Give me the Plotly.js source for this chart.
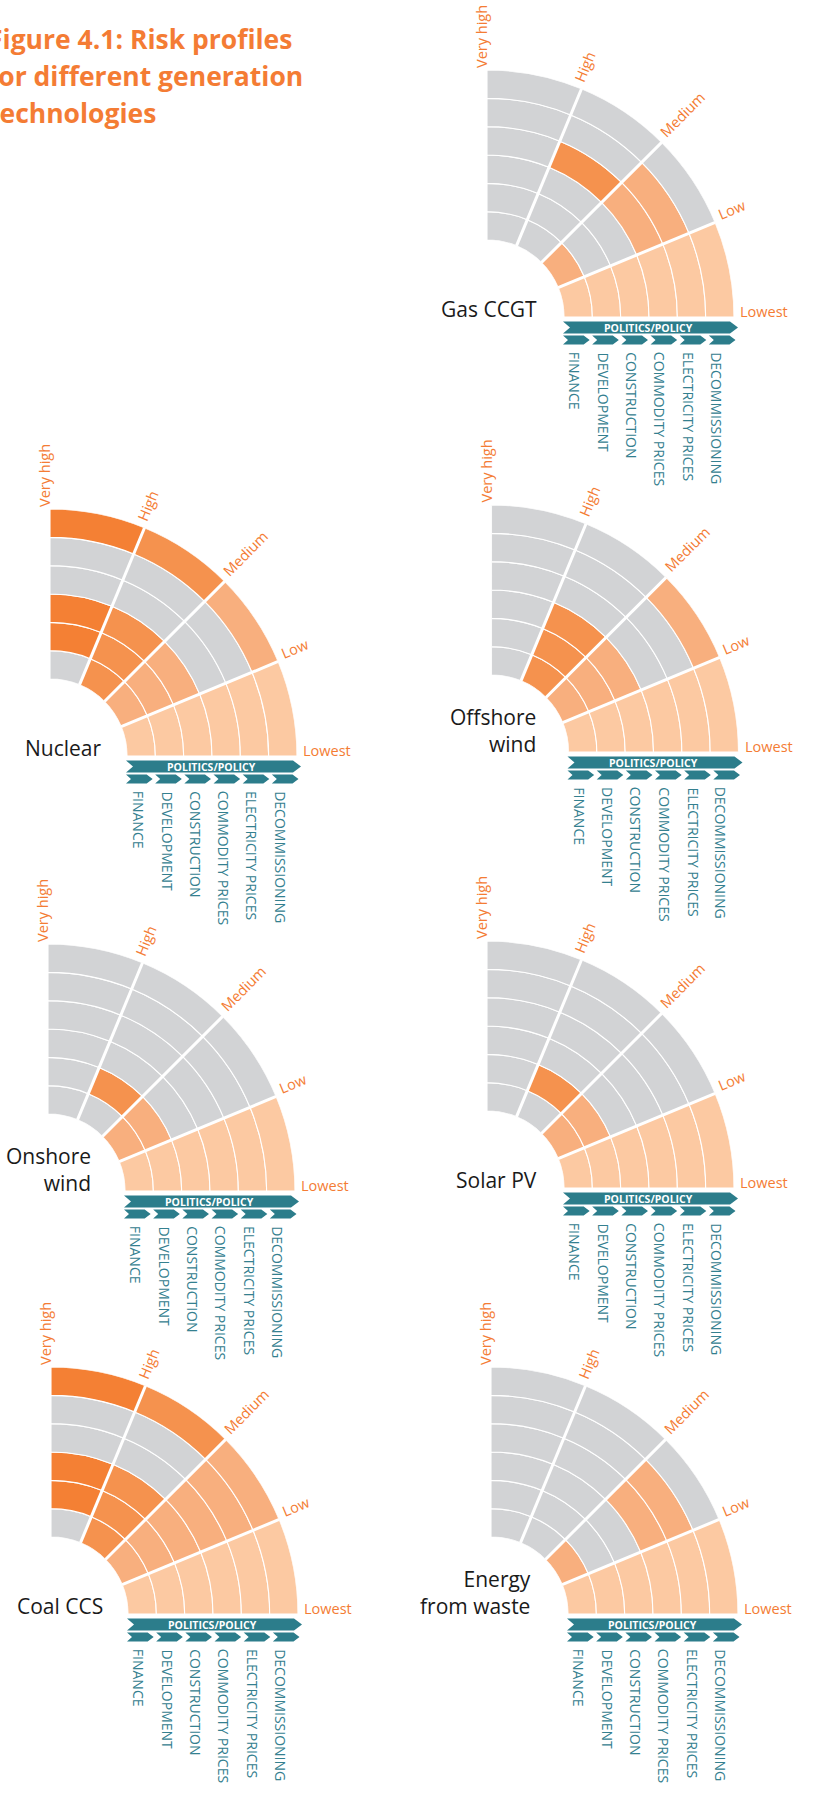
<!DOCTYPE html>
<html>
<head>
<meta charset="utf-8">
<script src="https://cdn.plot.ly/plotly-3.0.1.min.js"></script>
<style>
  html, body { margin: 0; padding: 0; background: #ffffff; }
  #chart { width: 831px; height: 1805px; }
</style>
</head>
<body>
<div id="chart"></div>
<script>
// ---- Data -------------------------------------------------------------
const technologies = ['Gas CCGT', 'Nuclear', 'Offshore<br>wind', 'Onshore<br>wind',
                      'Solar PV', 'Coal CCS', 'Energy<br>from waste'];
const riskCategories = ['FINANCE', 'DEVELOPMENT', 'CONSTRUCTION',
                        'COMMODITY PRICES', 'ELECTRICITY PRICES', 'DECOMMISSIONING'];
const riskLevels = ['Lowest', 'Low', 'Medium', 'High', 'Very high'];

// Risk level of each category (inner ring = FINANCE, outer ring = DECOMMISSIONING)
const gasCCGT         = ['Medium', 'Low',       'Low',       'High',   'Medium', 'Low'];
const nuclear         = ['High',   'Very high', 'Very high', 'Low',    'Low',    'Very high'];
const offshoreWind    = ['High',   'High',      'High',      'Low',    'Low',    'Medium'];
const onshoreWind     = ['Medium', 'High',      'Low',       'Low',    'Low',    'Low'];
const solarPV         = ['Medium', 'High',      'Low',       'Low',    'Low',    'Low'];
const coalCCS         = ['High',   'Very high', 'Very high', 'Medium', 'Medium', 'Very high'];
const energyFromWaste = ['Medium', 'Low',       'Low',       'Medium', 'Medium', 'Low'];
const profiles = [gasCCGT, nuclear, offshoreWind, onshoreWind, solarPV, coalCCS, energyFromWaste];

const titleLines = ['Figure 4.1: Risk profiles', 'for different generation', 'technologies'];
const bannerLabel = 'POLITICS/POLICY';

// ---- Layout & style ---------------------------------------------------
const W = 831, H = 1805;
const R_OUT = 247, R_IN = 77;
const RING_W = (R_OUT - R_IN) / riskCategories.length;
const STEP = 90 / (riskLevels.length - 1);           // degrees per risk band
// centre (pixels) of each quarter-disc, in the same order as technologies
const centres = [[487, 317], [50, 756], [491.5, 752], [48, 1191],
                 [487, 1188], [51, 1614], [491, 1614]];
const nameRight = [52, 54, 46, 45, 52, 54, 42];

const BAND_COLOURS = ['#fcc9a2', '#f8af7e', '#f5924e', '#f48034'];
const EMPTY = '#d2d3d5';
const ORANGE = '#f47c34';
const TEAL = '#2c7d8b';
const TEAL_TEXT = '#34808f';
const FONT = 'Open Sans';

const px = x => x / W;
const py = y => 1 - y / H;

const measureCtx = document.createElement('canvas').getContext('2d');
function textWidth(str, size, weight) {
  measureCtx.font = (weight || 'normal') + ' ' + size + 'px "' + FONT + '"';
  return measureCtx.measureText(str).width;
}

const traces = [];
const annotations = [];
const shapes = [];
const layout = {
  width: W, height: H,
  margin: {l: 0, r: 0, t: 0, b: 0},
  paper_bgcolor: '#ffffff',
  showlegend: false,
  font: {family: FONT},
  annotations: annotations,
  shapes: shapes
};

// Title, one annotation per line
titleLines.forEach((line, i) => {
  annotations.push({
    text: '<b>' + line + '</b>',
    xref: 'paper', yref: 'paper', x: px(-14), y: py(19 + i * 37),
    xanchor: 'left', yanchor: 'top', align: 'left', showarrow: false,
    font: {family: FONT, size: 26.5, color: ORANGE}
  });
});

function arrowPath(x0, x1, yTop, yBot, notch, tip) {
  const ym = (yTop + yBot) / 2;
  const pts = [[x0, yTop], [x1 - tip, yTop], [x1, ym], [x1 - tip, yBot], [x0, yBot], [x0 + notch, ym]];
  return 'M' + pts.map(p => px(p[0]) + ',' + py(p[1])).join('L') + 'Z';
}

profiles.forEach((profile, c) => {
  const [cx, cy] = centres[c];
  const id = c === 0 ? 'polar' : 'polar' + (c + 1);

  // cells: one bar per ring and risk band
  const r = [], base = [], theta = [], colours = [];
  riskCategories.forEach((cat, ring) => {
    const level = riskLevels.indexOf(profile[ring]);
    for (let s = 0; s < riskLevels.length - 1; s++) {
      r.push(1);
      base.push(ring);
      theta.push(STEP * (s + 0.5));
      colours.push(s < level ? BAND_COLOURS[s] : EMPTY);
    }
  });
  traces.push({
    type: 'barpolar', subplot: id,
    r: r, base: base, theta: theta, width: STEP,
    marker: {color: colours, line: {color: '#ffffff', width: 1.1}},
    hoverinfo: 'skip', showlegend: false
  });

  // wider white dividers on the band boundaries
  riskLevels.slice(1, -1).forEach((lvl, k) => {
    const ang = (k + 1) * STEP;
    traces.push({
      type: 'scatterpolar', subplot: id, mode: 'lines',
      r: [0, riskCategories.length], theta: [ang, ang],
      line: {color: '#ffffff', width: 3},
      hoverinfo: 'skip', showlegend: false
    });
  });

  layout[id] = {
    domain: {x: [px(cx), px(cx + R_OUT)], y: [py(cy), py(cy - R_OUT)]},
    sector: [0, 90],
    hole: R_IN / R_OUT,
    bgcolor: 'rgba(0,0,0,0)',
    barmode: 'overlay',
    radialaxis: {range: [0, riskCategories.length], visible: false,
                 showgrid: false, showline: false, showticklabels: false, ticks: ''},
    angularaxis: {visible: false, rotation: 0, direction: 'counterclockwise',
                  showgrid: false, showline: false, showticklabels: false, ticks: ''}
  };

  // risk level labels along the band boundaries
  riskLevels.forEach((lvl, k) => {
    const ang = k * STEP;
    const rad = ang * Math.PI / 180;
    const size = 14.5;
    const len = textWidth(lvl, size);
    const gap = k === riskLevels.length - 1 ? 2 : 6.5;
    const rc = R_OUT + gap + len / 2;
    const perp = 5.5;
    annotations.push({
      text: lvl, xref: 'paper', yref: 'paper',
      x: px(cx + rc * Math.cos(rad) - perp * Math.sin(rad)),
      y: py(cy - rc * Math.sin(rad) - perp * Math.cos(rad)),
      xanchor: 'center', yanchor: 'middle', textangle: -ang, showarrow: false,
      font: {family: FONT, size: size, color: ORANGE}
    });
  });

  // technology name
  annotations.push({
    text: technologies[c], xref: 'paper', yref: 'paper',
    x: px(cx + nameRight[c]), y: py(cy + 8),
    xanchor: 'right', yanchor: 'bottom', align: 'right', showarrow: false,
    font: {family: FONT, size: 21, color: '#1a1a1a'}
  });

  // politics/policy banner and one chevron per ring
  const bx0 = cx + R_IN - 1, bx1 = cx + R_OUT + 4;
  shapes.push({type: 'path', xref: 'paper', yref: 'paper',
               path: arrowPath(bx0, bx1, cy + 4.5, cy + 16.5, 7, 8),
               fillcolor: TEAL, line: {width: 0}});
  annotations.push({
    text: '<b>' + bannerLabel + '</b>', xref: 'paper', yref: 'paper',
    x: px((bx0 + bx1) / 2 - 2), y: py(cy + 10.6),
    xanchor: 'center', yanchor: 'middle', showarrow: false,
    font: {family: FONT, size: 10.5, color: '#ffffff'}
  });
  const slot = (bx1 - bx0) / riskCategories.length;
  riskCategories.forEach((cat, ring) => {
    const x0 = bx0 + ring * slot;
    shapes.push({type: 'path', xref: 'paper', yref: 'paper',
                 path: arrowPath(x0, x0 + slot - 2.5, cy + 18.5, cy + 27.5, 5, 6),
                 fillcolor: TEAL, line: {width: 0}});
    annotations.push({
      text: cat, xref: 'paper', yref: 'paper',
      x: px(cx + R_IN + (ring + 0.5) * RING_W - 3), y: py(cy + 33),
      xanchor: 'center', yanchor: 'top', textangle: 90, showarrow: false,
      font: {family: FONT, size: 14, color: TEAL_TEXT}
    });
  });
});

Plotly.newPlot('chart', traces, layout, {displayModeBar: false, staticPlot: true});
</script>
</body>
</html>
